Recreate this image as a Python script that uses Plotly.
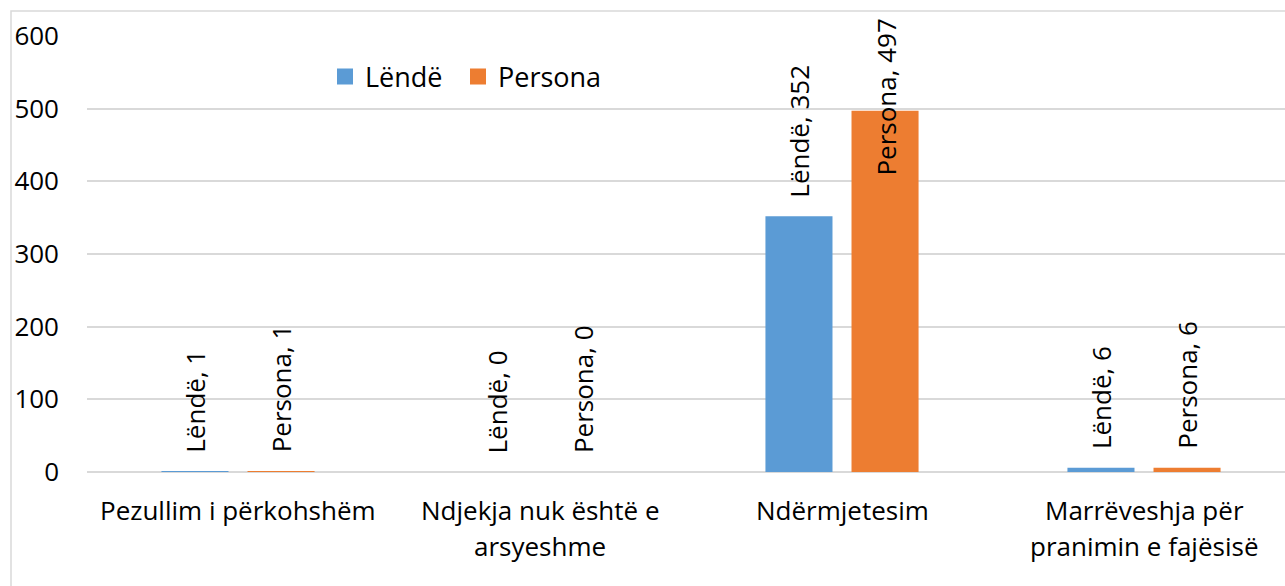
import plotly.graph_objects as go

# Categories (multi-line labels split with "\n")
categories = [
    "Pezullim i përkohshëm",
    "Ndjekja nuk është e\narsyeshme",
    "Ndërmjetesim",
    "Marrëveshja për\npranimin e fajësisë",
]
series_names = ["Lëndë", "Persona"]
lende = [1, 0, 352, 6]
persona = [1, 0, 497, 6]
y_ticks = [0, 100, 200, 300, 400, 500, 600]

colors = {"Lëndë": "#5B9BD5", "Persona": "#ED7D31"}
FONT = "Open Sans"
FSIZE = 26
LEG_SIZE = 27

W, H = 1285, 586
ML, MR, MT, MB = 87, 0, 36, 114
plot_w = W - ML - MR
plot_h = H - MT - MB
cat_px = 302.0
y_max = 600
px_per_unit = plot_h / y_max

# left edge (px) of each legend entry's swatch
legend_px = {"Lëndë": 325, "Persona": 458}
legend_ids = {"Lëndë": "legend", "Persona": "legend2"}

x_idx = list(range(len(categories)))
fig = go.Figure()

for name, vals in zip(series_names, [lende, persona]):
    fig.add_trace(go.Bar(
        x=x_idx, y=vals, name=name, marker_color=colors[name],
        marker_line_width=0, showlegend=False, hoverinfo="skip",
    ))
    # legend entry with a larger square swatch
    fig.add_trace(go.Scatter(
        x=[None], y=[None], mode="markers", name=name,
        legend=legend_ids[name],
        marker=dict(symbol="square", size=17, color=colors[name]),
    ))

bargap = 0.43
slot = (1 - bargap) / 2  # width of one bar slot in category units

annotations = []
# rotated data labels above each bar; labels that would run past the
# top of the chart are pinned just below its top edge instead
top_px = plot_h + MT - 17          # pixel height (from the axis) of the pin line
for k, (name, vals) in enumerate(zip(series_names, [lende, persona])):
    offset = (k - 0.5) * slot
    for i, v in enumerate(vals):
        text = f"{name}, {v}"
        est_len = len(text) * 12.8
        if v * px_per_unit + 17 + est_len > top_px:
            ann = dict(y=top_px / plot_h, yref="paper", yanchor="top")
        else:
            ann = dict(y=v, yref="y", yanchor="bottom", yshift=17)
        ann.update(dict(
            x=i + offset, xref="x", text=text, textangle=-90,
            showarrow=False, xanchor="center",
            font=dict(family=FONT, size=FSIZE, color="#000000"),
        ))
        annotations.append(ann)

# category labels under the axis, one annotation per line
for i, label in enumerate(categories):
    for j, line in enumerate(label.split("\n")):
        annotations.append(dict(
            x=i, xref="x", y=0, yref="y", text=line, showarrow=False,
            xanchor="center", yanchor="middle", yshift=-(38 + 36 * j),
            font=dict(family=FONT, size=FSIZE, color="#000000"),
        ))

x_left = -0.5
x_right = x_left + plot_w / cat_px


def legend_box(name):
    return dict(
        orientation="h", x=(legend_px[name] - ML) / plot_w, xanchor="left",
        y=(472 - 77) / plot_h, yanchor="middle",
        font=dict(family=FONT, size=LEG_SIZE, color="#000000"),
        bgcolor="rgba(0,0,0,0)", itemwidth=30,
    )


fig.update_layout(
    width=W, height=H,
    margin=dict(l=ML, r=MR, t=MT, b=MB),
    paper_bgcolor="white", plot_bgcolor="white",
    barmode="group", bargap=bargap, bargroupgap=0.221,
    font=dict(family=FONT, size=FSIZE, color="#000000"),
    xaxis=dict(range=[x_left, x_right], showticklabels=False, showgrid=False,
               zeroline=False, showline=False, ticks=""),
    yaxis=dict(range=[0, y_max], tickvals=y_ticks, showgrid=True,
               gridcolor="#D9D9D9", gridwidth=1.5, zeroline=True,
               zerolinecolor="#D9D9D9", zerolinewidth=1.5, showline=False,
               ticks="", ticklabelstandoff=27,
               tickfont=dict(family=FONT, size=FSIZE, color="#000000")),
    legend=legend_box("Lëndë"),
    legend2=legend_box("Persona"),
    annotations=annotations,
    shapes=[dict(type="rect", xref="paper", yref="paper",
                 x0=(11 - ML) / plot_w, x1=1.1,
                 y0=-0.5, y1=(472 - 11) / plot_h,
                 line=dict(color="#D9D9D9", width=1.5), layer="below")],
    showlegend=True,
)

fig.write_html("out.html")
